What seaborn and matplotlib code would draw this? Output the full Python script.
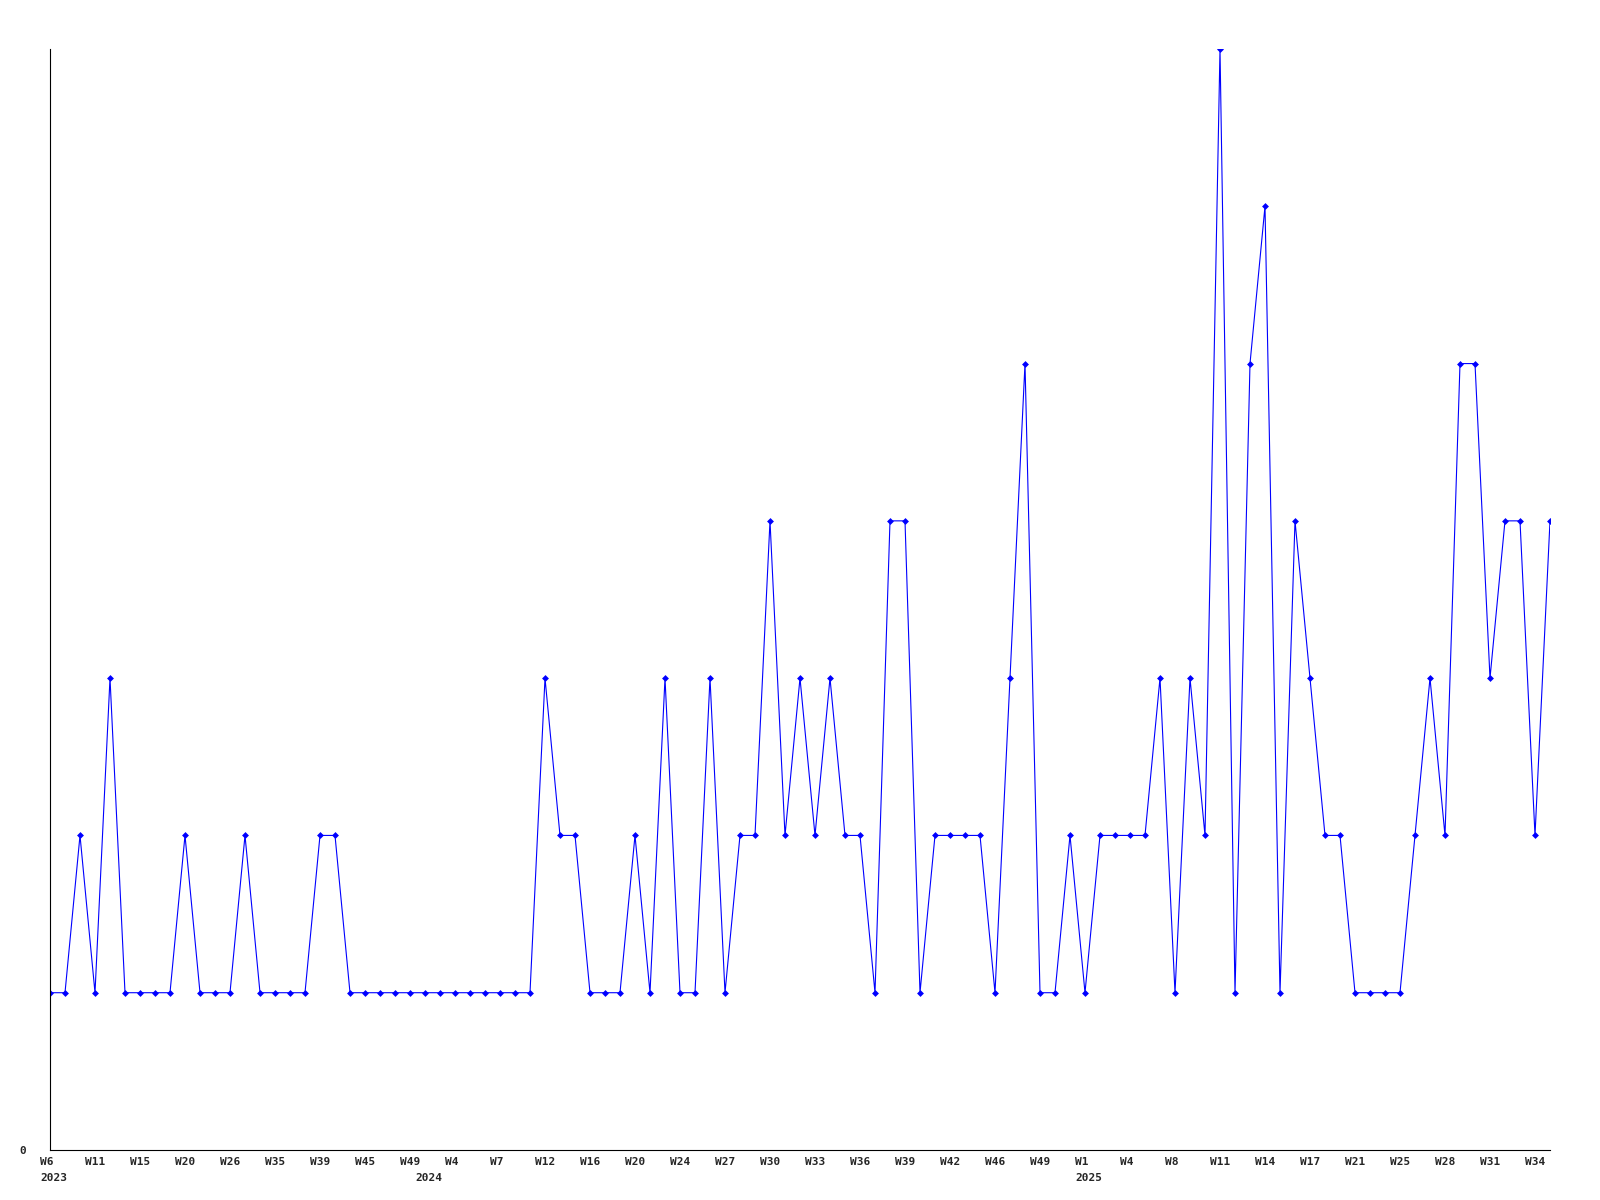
import matplotlib
matplotlib.use("Agg")
import matplotlib.pyplot as plt
import matplotlib.transforms as mtransforms
import seaborn as sns

# weekly counts, one value per point on the x axis
weekly_counts = [1, 1, 2, 1, 3, 1, 1, 1, 1, 2,
                 1, 1, 1, 2, 1, 1, 1, 1, 2, 2,
                 1, 1, 1, 1, 1, 1, 1, 1, 1, 1,
                 1, 1, 1, 3, 2, 2, 1, 1, 1, 2,
                 1, 3, 1, 1, 3, 1, 2, 2, 4, 2,
                 3, 2, 3, 2, 2, 1, 4, 4, 1, 2,
                 2, 2, 2, 1, 3, 5, 1, 1, 2, 1,
                 2, 2, 2, 2, 3, 1, 3, 2, 7, 1,
                 5, 6, 1, 4, 3, 2, 2, 1, 1, 1,
                 1, 2, 3, 2, 5, 5, 3, 4, 4, 2,
                 4]

# labels for every third point
week_labels = ["W6", "W11", "W15", "W20", "W26", "W35", "W39", "W45", "W49",
               "W4", "W7", "W12", "W16", "W20", "W24", "W27", "W30", "W33",
               "W36", "W39", "W42", "W46", "W49",
               "W1", "W4", "W8", "W11", "W14", "W17", "W21", "W25", "W28",
               "W31", "W34"]

# first point of each year
year_labels = ["2023", "2024", "2025"]
year_start_points = [0, 25, 69]

sns.set_style("white")
plt.rcParams["font.family"] = ["DejaVu Sans Mono"]

fig = plt.figure(figsize=(16, 12), dpi=100)
ax = fig.add_axes([50 / 1600, 50 / 1200, 1500 / 1600, 1101 / 1200])

points = list(range(len(weekly_counts)))
sns.lineplot(x=points, y=weekly_counts, ax=ax, color="#0000ff", linewidth=0.8,
             marker="D", markersize=3.5, markeredgewidth=0, markerfacecolor="#0000ff")

ax.set_xlim(0, len(weekly_counts) - 1)
ax.set_ylim(0, 7)

for side in ["top", "right"]:
    ax.spines[side].set_visible(False)
for side in ["left", "bottom"]:
    ax.spines[side].set_color("black")
    ax.spines[side].set_linewidth(0.8)

label_font = dict(fontsize=8, fontweight="bold", family="DejaVu Sans Mono")

ax.set_yticks([0], ["0"], **label_font)
ax.tick_params(axis="y", length=0, pad=17)

tick_points = points[::3][:len(week_labels)]
ax.set_xticks(tick_points, week_labels, **label_font)
ax.tick_params(axis="x", length=0, pad=5)
shift = mtransforms.ScaledTranslation(-10 / 100, 0, fig.dpi_scale_trans)
for lbl in ax.get_xticklabels():
    lbl.set_horizontalalignment("left")
    lbl.set_transform(lbl.get_transform() + shift)

for year, start in zip(year_labels, year_start_points):
    ax.annotate(year, xy=(start, 0), xycoords=("data", "axes fraction"),
                xytext=(-10, -31), textcoords="offset pixels",
                ha="left", va="baseline", **label_font)

plt.savefig("out.png", dpi=100)
